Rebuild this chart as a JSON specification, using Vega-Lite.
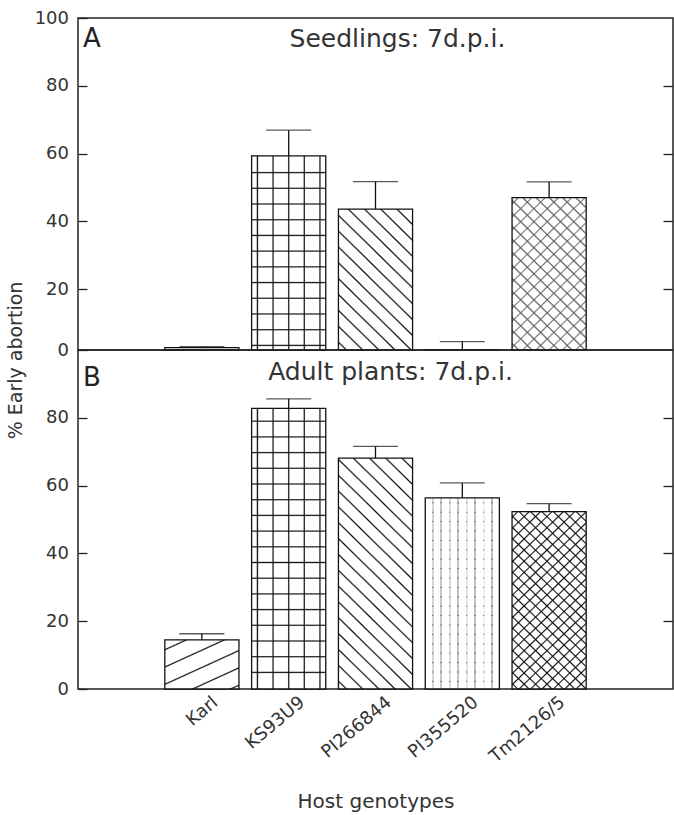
{
"$schema": "https://vega.github.io/schema/vega-lite/v6.json",
"background": "white",
"padding": {"left": 5, "top": 8, "right": 2, "bottom": 0},
"bounds": "flush",
"spacing": 0,
"config": {
  "font": "DejaVu Sans",
  "view": {"stroke": "#222", "strokeWidth": 1.5},
  "axis": {"grid": false, "domain": false, "tickColor": "#222", "tickWidth": 1.3, "labelColor": "#333", "titleColor": "#333", "labelFontWeight": "normal", "titleFontWeight": "normal", "labelFlush": false},
  "title": {"fontWeight": "normal", "color": "#222"}
},
"datasets": {
  "bars": [
    {"panel": "A", "genotype": "Karl", "value": 2.7, "upper": 3.0},
    {"panel": "A", "genotype": "KS93U9", "value": 59.3, "upper": 66.9},
    {"panel": "A", "genotype": "PI266844", "value": 43.6, "upper": 51.7},
    {"panel": "A", "genotype": "PI355520", "value": 1.0, "upper": 4.5},
    {"panel": "A", "genotype": "Tm2126/5", "value": 47.0, "upper": 51.6},
    {"panel": "B", "genotype": "Karl", "value": 14.5, "upper": 16.3},
    {"panel": "B", "genotype": "KS93U9", "value": 82.8, "upper": 85.6},
    {"panel": "B", "genotype": "PI266844", "value": 68.1, "upper": 71.6},
    {"panel": "B", "genotype": "PI355520", "value": 56.4, "upper": 60.8},
    {"panel": "B", "genotype": "Tm2126/5", "value": 52.3, "upper": 54.7}
  ]
},
"vconcat": [
{
  "width": 595, "height": 332,
  "title": {"text": "A", "anchor": "start", "frame": "group", "baseline": "top", "offset": -42.5, "dx": 5, "fontSize": 26},
  "data": {"name": "bars"},
  "transform": [{"filter": "datum.panel === 'A'"}],
  "resolve": {"axis": {"x": "independent", "y": "independent"}},
  "layer": [
    {"transform": [{"filter": "datum.genotype === 'KS93U9'"}],
     "mark": {"type": "bar", "strokeWidth": 0, "fill": {"gradient": "linear", "x1": 0, "y1": 1, "x2": 0, "y2": 0, "stops": [
       {"offset":0.0175,"color":"#fff"},{"offset":0.0237,"color":"#111"},{"offset":0.0299,"color":"#fff"},
       {"offset":0.0984,"color":"#fff"},{"offset":0.1046,"color":"#111"},{"offset":0.1108,"color":"#fff"},
       {"offset":0.1794,"color":"#fff"},{"offset":0.1856,"color":"#111"},{"offset":0.1918,"color":"#fff"},
       {"offset":0.2603,"color":"#fff"},{"offset":0.2665,"color":"#111"},{"offset":0.2727,"color":"#fff"},
       {"offset":0.3412,"color":"#fff"},{"offset":0.3474,"color":"#111"},{"offset":0.3536,"color":"#fff"},
       {"offset":0.4222,"color":"#fff"},{"offset":0.4284,"color":"#111"},{"offset":0.4346,"color":"#fff"},
       {"offset":0.5031,"color":"#fff"},{"offset":0.5093,"color":"#111"},{"offset":0.5155,"color":"#fff"},
       {"offset":0.5840,"color":"#fff"},{"offset":0.5902,"color":"#111"},{"offset":0.5964,"color":"#fff"},
       {"offset":0.6649,"color":"#fff"},{"offset":0.6711,"color":"#111"},{"offset":0.6773,"color":"#fff"},
       {"offset":0.7459,"color":"#fff"},{"offset":0.7521,"color":"#111"},{"offset":0.7583,"color":"#fff"},
       {"offset":0.8268,"color":"#fff"},{"offset":0.8330,"color":"#111"},{"offset":0.8392,"color":"#fff"},
       {"offset":0.9077,"color":"#fff"},{"offset":0.9139,"color":"#111"},{"offset":0.9201,"color":"#fff"}]}},
     "encoding": {
       "x": {"field": "genotype", "type": "nominal", "scale": {"domain": ["Karl","KS93U9","PI266844","PI355520","Tm2126/5"], "paddingInner": 0.146, "paddingOuter": 1.053}, "axis": null},
       "y": {"field": "value", "type": "quantitative", "scale": {"domain": [2, 100], "nice": false, "zero": false, "clamp": true}, "axis": null}}},
    {"transform": [{"filter": "datum.genotype === 'KS93U9'"}],
     "mark": {"type": "bar", "strokeWidth": 0, "fill": {"gradient": "linear", "x1": 0, "y1": 0, "x2": 1, "y2": 0, "stops": [
       {"offset":0.062,"color":"transparent"},{"offset":0.0785,"color":"#111"},{"offset":0.095,"color":"transparent"},
       {"offset":0.2728,"color":"transparent"},{"offset":0.2893,"color":"#111"},{"offset":0.3058,"color":"transparent"},
       {"offset":0.4835,"color":"transparent"},{"offset":0.5,"color":"#111"},{"offset":0.5165,"color":"transparent"},
       {"offset":0.6942,"color":"transparent"},{"offset":0.7107,"color":"#111"},{"offset":0.7272,"color":"transparent"},
       {"offset":0.905,"color":"transparent"},{"offset":0.9215,"color":"#111"},{"offset":0.938,"color":"transparent"}]}},
     "encoding": {
       "x": {"field": "genotype", "type": "nominal", "axis": null},
       "y": {"field": "value", "type": "quantitative", "axis": null}}},
    {"transform": [{"filter": "datum.genotype === 'PI266844'"}],
     "mark": {"type": "bar", "strokeWidth": 0, "fill": {"gradient": "linear", "x1": 0, "y1": 1, "x2": 0.6174, "y2": -0.1973, "stops": [
       {"offset":0.0291,"color":"#fff"},{"offset":0.0371,"color":"#111"},{"offset":0.0451,"color":"#fff"},
       {"offset":0.1033,"color":"#fff"},{"offset":0.1113,"color":"#111"},{"offset":0.1193,"color":"#fff"},
       {"offset":0.1776,"color":"#fff"},{"offset":0.1856,"color":"#111"},{"offset":0.1936,"color":"#fff"},
       {"offset":0.2518,"color":"#fff"},{"offset":0.2598,"color":"#111"},{"offset":0.2678,"color":"#fff"},
       {"offset":0.3260,"color":"#fff"},{"offset":0.3340,"color":"#111"},{"offset":0.3420,"color":"#fff"},
       {"offset":0.4002,"color":"#fff"},{"offset":0.4082,"color":"#111"},{"offset":0.4162,"color":"#fff"},
       {"offset":0.4744,"color":"#fff"},{"offset":0.4824,"color":"#111"},{"offset":0.4904,"color":"#fff"},
       {"offset":0.5487,"color":"#fff"},{"offset":0.5567,"color":"#111"},{"offset":0.5647,"color":"#fff"},
       {"offset":0.6229,"color":"#fff"},{"offset":0.6309,"color":"#111"},{"offset":0.6389,"color":"#fff"},
       {"offset":0.6971,"color":"#fff"},{"offset":0.7051,"color":"#111"},{"offset":0.7131,"color":"#fff"},
       {"offset":0.7713,"color":"#fff"},{"offset":0.7793,"color":"#111"},{"offset":0.7873,"color":"#fff"},
       {"offset":0.8456,"color":"#fff"},{"offset":0.8536,"color":"#111"},{"offset":0.8616,"color":"#fff"},
       {"offset":0.9198,"color":"#fff"},{"offset":0.9278,"color":"#111"},{"offset":0.9358,"color":"#fff"}]}},
     "encoding": {
       "x": {"field": "genotype", "type": "nominal", "axis": null},
       "y": {"field": "value", "type": "quantitative", "axis": null}}},
    {"transform": [{"filter": "datum.genotype === 'Tm2126/5'"}],
     "mark": {"type": "bar", "strokeWidth": 0, "fill": {"gradient": "linear", "x1": 0, "y1": 0, "x2": 0.5735, "y2": 1.2031, "stops": [
       {"offset":0.0220,"color":"#fff"},{"offset":0.0289,"color":"#777"},{"offset":0.0358,"color":"#fff"},
       {"offset":0.0799,"color":"#fff"},{"offset":0.0868,"color":"#777"},{"offset":0.0937,"color":"#fff"},
       {"offset":0.1378,"color":"#fff"},{"offset":0.1447,"color":"#777"},{"offset":0.1516,"color":"#fff"},
       {"offset":0.1956,"color":"#fff"},{"offset":0.2025,"color":"#777"},{"offset":0.2094,"color":"#fff"},
       {"offset":0.2535,"color":"#fff"},{"offset":0.2604,"color":"#777"},{"offset":0.2673,"color":"#fff"},
       {"offset":0.3113,"color":"#fff"},{"offset":0.3182,"color":"#777"},{"offset":0.3251,"color":"#fff"},
       {"offset":0.3692,"color":"#fff"},{"offset":0.3761,"color":"#777"},{"offset":0.3830,"color":"#fff"},
       {"offset":0.4271,"color":"#fff"},{"offset":0.4340,"color":"#777"},{"offset":0.4409,"color":"#fff"},
       {"offset":0.4849,"color":"#fff"},{"offset":0.4918,"color":"#777"},{"offset":0.4987,"color":"#fff"},
       {"offset":0.5428,"color":"#fff"},{"offset":0.5497,"color":"#777"},{"offset":0.5566,"color":"#fff"},
       {"offset":0.6006,"color":"#fff"},{"offset":0.6075,"color":"#777"},{"offset":0.6144,"color":"#fff"},
       {"offset":0.6585,"color":"#fff"},{"offset":0.6654,"color":"#777"},{"offset":0.6723,"color":"#fff"},
       {"offset":0.7164,"color":"#fff"},{"offset":0.7233,"color":"#777"},{"offset":0.7302,"color":"#fff"},
       {"offset":0.7742,"color":"#fff"},{"offset":0.7811,"color":"#777"},{"offset":0.7880,"color":"#fff"},
       {"offset":0.8321,"color":"#fff"},{"offset":0.8390,"color":"#777"},{"offset":0.8459,"color":"#fff"},
       {"offset":0.8900,"color":"#fff"},{"offset":0.8969,"color":"#777"},{"offset":0.9038,"color":"#fff"},
       {"offset":0.9478,"color":"#fff"},{"offset":0.9547,"color":"#777"},{"offset":0.9616,"color":"#fff"}]}},
     "encoding": {
       "x": {"field": "genotype", "type": "nominal", "axis": null},
       "y": {"field": "value", "type": "quantitative", "axis": null}}},
    {"transform": [{"filter": "datum.genotype === 'Tm2126/5'"}],
     "mark": {"type": "bar", "strokeWidth": 0, "fill": {"gradient": "linear", "x1": 0, "y1": 1, "x2": 0.5735, "y2": -0.2031, "stops": [
       {"offset":0.0220,"color":"transparent"},{"offset":0.0289,"color":"#777"},{"offset":0.0358,"color":"transparent"},
       {"offset":0.0799,"color":"transparent"},{"offset":0.0868,"color":"#777"},{"offset":0.0937,"color":"transparent"},
       {"offset":0.1378,"color":"transparent"},{"offset":0.1447,"color":"#777"},{"offset":0.1516,"color":"transparent"},
       {"offset":0.1956,"color":"transparent"},{"offset":0.2025,"color":"#777"},{"offset":0.2094,"color":"transparent"},
       {"offset":0.2535,"color":"transparent"},{"offset":0.2604,"color":"#777"},{"offset":0.2673,"color":"transparent"},
       {"offset":0.3113,"color":"transparent"},{"offset":0.3182,"color":"#777"},{"offset":0.3251,"color":"transparent"},
       {"offset":0.3692,"color":"transparent"},{"offset":0.3761,"color":"#777"},{"offset":0.3830,"color":"transparent"},
       {"offset":0.4271,"color":"transparent"},{"offset":0.4340,"color":"#777"},{"offset":0.4409,"color":"transparent"},
       {"offset":0.4849,"color":"transparent"},{"offset":0.4918,"color":"#777"},{"offset":0.4987,"color":"transparent"},
       {"offset":0.5428,"color":"transparent"},{"offset":0.5497,"color":"#777"},{"offset":0.5566,"color":"transparent"},
       {"offset":0.6006,"color":"transparent"},{"offset":0.6075,"color":"#777"},{"offset":0.6144,"color":"transparent"},
       {"offset":0.6585,"color":"transparent"},{"offset":0.6654,"color":"#777"},{"offset":0.6723,"color":"transparent"},
       {"offset":0.7164,"color":"transparent"},{"offset":0.7233,"color":"#777"},{"offset":0.7302,"color":"transparent"},
       {"offset":0.7742,"color":"transparent"},{"offset":0.7811,"color":"#777"},{"offset":0.7880,"color":"transparent"},
       {"offset":0.8321,"color":"transparent"},{"offset":0.8390,"color":"#777"},{"offset":0.8459,"color":"transparent"},
       {"offset":0.8900,"color":"transparent"},{"offset":0.8969,"color":"#777"},{"offset":0.9038,"color":"transparent"},
       {"offset":0.9478,"color":"transparent"},{"offset":0.9547,"color":"#777"},{"offset":0.9616,"color":"transparent"}]}},
     "encoding": {
       "x": {"field": "genotype", "type": "nominal", "axis": null},
       "y": {"field": "value", "type": "quantitative", "axis": null}}},
    {"mark": {"type": "bar", "fill": "white", "fillOpacity": 0, "stroke": "#111", "strokeWidth": 1.3},
     "encoding": {
       "x": {"field": "genotype", "type": "nominal", "axis": null},
       "y": {"field": "value", "type": "quantitative",
             "axis": {"orient": "left", "values": [2, 20, 40, 60, 80, 100], "labelExpr": "datum.value < 10 ? '0' : datum.label", "tickSize": -9, "labelPadding": 18.5, "labelFontSize": 18,
                      "title": "% Early abortion", "titleX": -63, "titleY": 342, "titleAngle": 270, "titleAlign": "center", "titleBaseline": "middle", "titleFontSize": 19}}}},
    {"mark": {"type": "rule", "color": "#111", "strokeWidth": 1.3},
     "encoding": {
       "x": {"field": "genotype", "type": "nominal", "axis": null},
       "y": {"field": "value", "type": "quantitative", "axis": null},
       "y2": {"field": "upper"}}},
    {"mark": {"type": "tick", "color": "#111", "size": 45, "thickness": 1.3},
     "encoding": {
       "x": {"field": "genotype", "type": "nominal", "axis": null},
       "y": {"field": "upper", "type": "quantitative",
             "axis": {"orient": "right", "values": [20, 40, 60, 80], "labels": false, "tickSize": -10, "title": null}}}},
    {"data": {"values": [{}]},
     "mark": {"type": "text", "text": "Seedlings:  7d.p.i.", "fontSize": 25, "dx": 22, "color": "#333"},
     "encoding": {
       "x": {"datum": "PI266844", "type": "nominal", "axis": null},
       "y": {"datum": 93.9, "type": "quantitative", "axis": null}}}
  ]
},
{
  "width": 595, "height": 339,
  "title": {"text": "B", "anchor": "start", "frame": "group", "baseline": "top", "offset": -40.5, "dx": 5, "fontSize": 26},
  "data": {"name": "bars"},
  "transform": [{"filter": "datum.panel === 'B'"}],
  "resolve": {"axis": {"x": "independent", "y": "independent"}},
  "layer": [
    {"transform": [{"filter": "datum.genotype === 'Karl'"}],
     "mark": {"type": "bar", "strokeWidth": 0, "fill": {"gradient": "linear", "x1": 0, "y1": 0, "x2": 0.7882, "y2": 1.1456, "stops": [
       {"offset":0.1037,"color":"#fff"},{"offset":0.1196,"color":"#111"},{"offset":0.1355,"color":"#fff"},
       {"offset":0.3123,"color":"#fff"},{"offset":0.3282,"color":"#111"},{"offset":0.3441,"color":"#fff"},
       {"offset":0.5208,"color":"#fff"},{"offset":0.5367,"color":"#111"},{"offset":0.5526,"color":"#fff"},
       {"offset":0.7294,"color":"#fff"},{"offset":0.7453,"color":"#111"},{"offset":0.7612,"color":"#fff"},
       {"offset":0.9380,"color":"#fff"},{"offset":0.9539,"color":"#111"},{"offset":0.9698,"color":"#fff"}]}},
     "encoding": {
       "x": {"field": "genotype", "type": "nominal", "scale": {"domain": ["Karl","KS93U9","PI266844","PI355520","Tm2126/5"], "paddingInner": 0.146, "paddingOuter": 1.053}, "axis": null},
       "y": {"field": "value", "type": "quantitative", "scale": {"domain": [0, 100], "nice": false, "clamp": true}, "axis": null}}},
    {"transform": [{"filter": "datum.genotype === 'KS93U9'"}],
     "mark": {"type": "bar", "strokeWidth": 0, "fill": {"gradient": "linear", "x1": 0, "y1": 1, "x2": 0, "y2": 0, "stops": [
       {"offset":0.0548,"color":"#fff"},{"offset":0.0591,"color":"#111"},{"offset":0.0634,"color":"#fff"},
       {"offset":0.1108,"color":"#fff"},{"offset":0.1151,"color":"#111"},{"offset":0.1194,"color":"#fff"},
       {"offset":0.1667,"color":"#fff"},{"offset":0.1710,"color":"#111"},{"offset":0.1753,"color":"#fff"},
       {"offset":0.2226,"color":"#fff"},{"offset":0.2269,"color":"#111"},{"offset":0.2312,"color":"#fff"},
       {"offset":0.2786,"color":"#fff"},{"offset":0.2829,"color":"#111"},{"offset":0.2872,"color":"#fff"},
       {"offset":0.3345,"color":"#fff"},{"offset":0.3388,"color":"#111"},{"offset":0.3431,"color":"#fff"},
       {"offset":0.3904,"color":"#fff"},{"offset":0.3947,"color":"#111"},{"offset":0.3990,"color":"#fff"},
       {"offset":0.4464,"color":"#fff"},{"offset":0.4507,"color":"#111"},{"offset":0.4550,"color":"#fff"},
       {"offset":0.5023,"color":"#fff"},{"offset":0.5066,"color":"#111"},{"offset":0.5109,"color":"#fff"},
       {"offset":0.5582,"color":"#fff"},{"offset":0.5625,"color":"#111"},{"offset":0.5668,"color":"#fff"},
       {"offset":0.6142,"color":"#fff"},{"offset":0.6185,"color":"#111"},{"offset":0.6228,"color":"#fff"},
       {"offset":0.6701,"color":"#fff"},{"offset":0.6744,"color":"#111"},{"offset":0.6787,"color":"#fff"},
       {"offset":0.7260,"color":"#fff"},{"offset":0.7303,"color":"#111"},{"offset":0.7346,"color":"#fff"},
       {"offset":0.7820,"color":"#fff"},{"offset":0.7863,"color":"#111"},{"offset":0.7906,"color":"#fff"},
       {"offset":0.8379,"color":"#fff"},{"offset":0.8422,"color":"#111"},{"offset":0.8465,"color":"#fff"},
       {"offset":0.8938,"color":"#fff"},{"offset":0.8981,"color":"#111"},{"offset":0.9024,"color":"#fff"},
       {"offset":0.9497,"color":"#fff"},{"offset":0.9540,"color":"#111"},{"offset":0.9583,"color":"#fff"}]}},
     "encoding": {
       "x": {"field": "genotype", "type": "nominal", "axis": null},
       "y": {"field": "value", "type": "quantitative", "axis": null}}},
    {"transform": [{"filter": "datum.genotype === 'KS93U9'"}],
     "mark": {"type": "bar", "strokeWidth": 0, "fill": {"gradient": "linear", "x1": 0, "y1": 0, "x2": 1, "y2": 0, "stops": [
       {"offset":0.062,"color":"transparent"},{"offset":0.0785,"color":"#111"},{"offset":0.095,"color":"transparent"},
       {"offset":0.2728,"color":"transparent"},{"offset":0.2893,"color":"#111"},{"offset":0.3058,"color":"transparent"},
       {"offset":0.4835,"color":"transparent"},{"offset":0.5,"color":"#111"},{"offset":0.5165,"color":"transparent"},
       {"offset":0.6942,"color":"transparent"},{"offset":0.7107,"color":"#111"},{"offset":0.7272,"color":"transparent"},
       {"offset":0.905,"color":"transparent"},{"offset":0.9215,"color":"#111"},{"offset":0.938,"color":"transparent"}]}},
     "encoding": {
       "x": {"field": "genotype", "type": "nominal", "axis": null},
       "y": {"field": "value", "type": "quantitative", "axis": null}}},
    {"transform": [{"filter": "datum.genotype === 'PI266844'"}],
     "mark": {"type": "bar", "strokeWidth": 0, "fill": {"gradient": "linear", "x1": 0, "y1": 1, "x2": 0.3761, "y2": -0.1961, "stops": [
       {"offset":0.0205,"color":"#fff"},{"offset":0.0261,"color":"#111"},{"offset":0.0317,"color":"#fff"},
       {"offset":0.0727,"color":"#fff"},{"offset":0.0783,"color":"#111"},{"offset":0.0839,"color":"#fff"},
       {"offset":0.1249,"color":"#fff"},{"offset":0.1305,"color":"#111"},{"offset":0.1361,"color":"#fff"},
       {"offset":0.1771,"color":"#fff"},{"offset":0.1827,"color":"#111"},{"offset":0.1883,"color":"#fff"},
       {"offset":0.2293,"color":"#fff"},{"offset":0.2349,"color":"#111"},{"offset":0.2405,"color":"#fff"},
       {"offset":0.2814,"color":"#fff"},{"offset":0.2870,"color":"#111"},{"offset":0.2926,"color":"#fff"},
       {"offset":0.3336,"color":"#fff"},{"offset":0.3392,"color":"#111"},{"offset":0.3448,"color":"#fff"},
       {"offset":0.3858,"color":"#fff"},{"offset":0.3914,"color":"#111"},{"offset":0.3970,"color":"#fff"},
       {"offset":0.4380,"color":"#fff"},{"offset":0.4436,"color":"#111"},{"offset":0.4492,"color":"#fff"},
       {"offset":0.4902,"color":"#fff"},{"offset":0.4958,"color":"#111"},{"offset":0.5014,"color":"#fff"},
       {"offset":0.5424,"color":"#fff"},{"offset":0.5480,"color":"#111"},{"offset":0.5536,"color":"#fff"},
       {"offset":0.5946,"color":"#fff"},{"offset":0.6002,"color":"#111"},{"offset":0.6058,"color":"#fff"},
       {"offset":0.6468,"color":"#fff"},{"offset":0.6524,"color":"#111"},{"offset":0.6580,"color":"#fff"},
       {"offset":0.6990,"color":"#fff"},{"offset":0.7046,"color":"#111"},{"offset":0.7102,"color":"#fff"},
       {"offset":0.7512,"color":"#fff"},{"offset":0.7568,"color":"#111"},{"offset":0.7624,"color":"#fff"},
       {"offset":0.8033,"color":"#fff"},{"offset":0.8089,"color":"#111"},{"offset":0.8145,"color":"#fff"},
       {"offset":0.8555,"color":"#fff"},{"offset":0.8611,"color":"#111"},{"offset":0.8667,"color":"#fff"},
       {"offset":0.9077,"color":"#fff"},{"offset":0.9133,"color":"#111"},{"offset":0.9189,"color":"#fff"},
       {"offset":0.9599,"color":"#fff"},{"offset":0.9655,"color":"#111"},{"offset":0.9711,"color":"#fff"}]}},
     "encoding": {
       "x": {"field": "genotype", "type": "nominal", "axis": null},
       "y": {"field": "value", "type": "quantitative", "axis": null}}},
    {"transform": [{"filter": "datum.genotype === 'PI355520'"}],
     "mark": {"type": "bar", "strokeWidth": 0, "fill": {"gradient": "linear", "x1": 0, "y1": 1, "x2": 0, "y2": 0, "stops": [
       {"offset":0.0345,"color":"#fff"},{"offset":0.0397,"color":"#666"},{"offset":0.0449,"color":"#fff"},
       {"offset":0.0837,"color":"#fff"},{"offset":0.0889,"color":"#666"},{"offset":0.0941,"color":"#fff"},
       {"offset":0.1329,"color":"#fff"},{"offset":0.1381,"color":"#666"},{"offset":0.1433,"color":"#fff"},
       {"offset":0.1820,"color":"#fff"},{"offset":0.1872,"color":"#666"},{"offset":0.1924,"color":"#fff"},
       {"offset":0.2312,"color":"#fff"},{"offset":0.2364,"color":"#666"},{"offset":0.2416,"color":"#fff"},
       {"offset":0.2804,"color":"#fff"},{"offset":0.2856,"color":"#666"},{"offset":0.2908,"color":"#fff"},
       {"offset":0.3295,"color":"#fff"},{"offset":0.3347,"color":"#666"},{"offset":0.3399,"color":"#fff"},
       {"offset":0.3787,"color":"#fff"},{"offset":0.3839,"color":"#666"},{"offset":0.3891,"color":"#fff"},
       {"offset":0.4279,"color":"#fff"},{"offset":0.4331,"color":"#666"},{"offset":0.4383,"color":"#fff"},
       {"offset":0.4770,"color":"#fff"},{"offset":0.4822,"color":"#666"},{"offset":0.4874,"color":"#fff"},
       {"offset":0.5262,"color":"#fff"},{"offset":0.5314,"color":"#666"},{"offset":0.5366,"color":"#fff"},
       {"offset":0.5753,"color":"#fff"},{"offset":0.5805,"color":"#666"},{"offset":0.5857,"color":"#fff"},
       {"offset":0.6245,"color":"#fff"},{"offset":0.6297,"color":"#666"},{"offset":0.6349,"color":"#fff"},
       {"offset":0.6737,"color":"#fff"},{"offset":0.6789,"color":"#666"},{"offset":0.6841,"color":"#fff"},
       {"offset":0.7228,"color":"#fff"},{"offset":0.7280,"color":"#666"},{"offset":0.7332,"color":"#fff"},
       {"offset":0.7720,"color":"#fff"},{"offset":0.7772,"color":"#666"},{"offset":0.7824,"color":"#fff"},
       {"offset":0.8212,"color":"#fff"},{"offset":0.8264,"color":"#666"},{"offset":0.8316,"color":"#fff"},
       {"offset":0.8703,"color":"#fff"},{"offset":0.8755,"color":"#666"},{"offset":0.8807,"color":"#fff"},
       {"offset":0.9195,"color":"#fff"},{"offset":0.9247,"color":"#666"},{"offset":0.9299,"color":"#fff"},
       {"offset":0.9686,"color":"#fff"},{"offset":0.9738,"color":"#666"},{"offset":0.9790,"color":"#fff"}]}},
     "encoding": {
       "x": {"field": "genotype", "type": "nominal", "axis": null},
       "y": {"field": "value", "type": "quantitative", "axis": null}}},
    {"transform": [{"filter": "datum.genotype === 'PI355520'"}],
     "mark": {"type": "bar", "strokeWidth": 0, "fill": {"gradient": "linear", "x1": 0, "y1": 0, "x2": 1, "y2": 0, "stops": [
       {"offset":0.0868,"color":"#fff"},{"offset":0.1006,"color":"transparent"},{"offset":0.1144,"color":"#fff"},
       {"offset":0.2011,"color":"#fff"},{"offset":0.2149,"color":"transparent"},{"offset":0.2287,"color":"#fff"},
       {"offset":0.3154,"color":"#fff"},{"offset":0.3292,"color":"transparent"},{"offset":0.3430,"color":"#fff"},
       {"offset":0.4297,"color":"#fff"},{"offset":0.4435,"color":"transparent"},{"offset":0.4573,"color":"#fff"},
       {"offset":0.5441,"color":"#fff"},{"offset":0.5579,"color":"transparent"},{"offset":0.5717,"color":"#fff"},
       {"offset":0.6584,"color":"#fff"},{"offset":0.6722,"color":"transparent"},{"offset":0.6860,"color":"#fff"},
       {"offset":0.7727,"color":"#fff"},{"offset":0.7865,"color":"transparent"},{"offset":0.8003,"color":"#fff"},
       {"offset":0.8870,"color":"#fff"},{"offset":0.9008,"color":"transparent"},{"offset":0.9146,"color":"#fff"}]}},
     "encoding": {
       "x": {"field": "genotype", "type": "nominal", "axis": null},
       "y": {"field": "value", "type": "quantitative", "axis": null}}},
    {"transform": [{"filter": "datum.genotype === 'Tm2126/5'"}],
     "mark": {"type": "bar", "strokeWidth": 0, "fill": {"gradient": "linear", "x1": 0, "y1": 0, "x2": 0.4943, "y2": 1.2070, "stops": [
       {"offset":0.0159,"color":"#fff"},{"offset":0.0221,"color":"#111"},{"offset":0.0283,"color":"#fff"},
       {"offset":0.0606,"color":"#fff"},{"offset":0.0668,"color":"#111"},{"offset":0.0730,"color":"#fff"},
       {"offset":0.1053,"color":"#fff"},{"offset":0.1115,"color":"#111"},{"offset":0.1177,"color":"#fff"},
       {"offset":0.1500,"color":"#fff"},{"offset":0.1562,"color":"#111"},{"offset":0.1624,"color":"#fff"},
       {"offset":0.1947,"color":"#fff"},{"offset":0.2009,"color":"#111"},{"offset":0.2071,"color":"#fff"},
       {"offset":0.2394,"color":"#fff"},{"offset":0.2456,"color":"#111"},{"offset":0.2518,"color":"#fff"},
       {"offset":0.2841,"color":"#fff"},{"offset":0.2903,"color":"#111"},{"offset":0.2965,"color":"#fff"},
       {"offset":0.3288,"color":"#fff"},{"offset":0.3350,"color":"#111"},{"offset":0.3412,"color":"#fff"},
       {"offset":0.3735,"color":"#fff"},{"offset":0.3797,"color":"#111"},{"offset":0.3859,"color":"#fff"},
       {"offset":0.4182,"color":"#fff"},{"offset":0.4244,"color":"#111"},{"offset":0.4306,"color":"#fff"},
       {"offset":0.4630,"color":"#fff"},{"offset":0.4692,"color":"#111"},{"offset":0.4754,"color":"#fff"},
       {"offset":0.5077,"color":"#fff"},{"offset":0.5139,"color":"#111"},{"offset":0.5201,"color":"#fff"},
       {"offset":0.5524,"color":"#fff"},{"offset":0.5586,"color":"#111"},{"offset":0.5648,"color":"#fff"},
       {"offset":0.5971,"color":"#fff"},{"offset":0.6033,"color":"#111"},{"offset":0.6095,"color":"#fff"},
       {"offset":0.6418,"color":"#fff"},{"offset":0.6480,"color":"#111"},{"offset":0.6542,"color":"#fff"},
       {"offset":0.6865,"color":"#fff"},{"offset":0.6927,"color":"#111"},{"offset":0.6989,"color":"#fff"},
       {"offset":0.7312,"color":"#fff"},{"offset":0.7374,"color":"#111"},{"offset":0.7436,"color":"#fff"},
       {"offset":0.7759,"color":"#fff"},{"offset":0.7821,"color":"#111"},{"offset":0.7883,"color":"#fff"},
       {"offset":0.8206,"color":"#fff"},{"offset":0.8268,"color":"#111"},{"offset":0.8330,"color":"#fff"},
       {"offset":0.8653,"color":"#fff"},{"offset":0.8715,"color":"#111"},{"offset":0.8777,"color":"#fff"},
       {"offset":0.9100,"color":"#fff"},{"offset":0.9162,"color":"#111"},{"offset":0.9224,"color":"#fff"},
       {"offset":0.9548,"color":"#fff"},{"offset":0.9610,"color":"#111"},{"offset":0.9672,"color":"#fff"}]}},
     "encoding": {
       "x": {"field": "genotype", "type": "nominal", "axis": null},
       "y": {"field": "value", "type": "quantitative", "axis": null}}},
    {"transform": [{"filter": "datum.genotype === 'Tm2126/5'"}],
     "mark": {"type": "bar", "strokeWidth": 0, "fill": {"gradient": "linear", "x1": 0, "y1": 1, "x2": 0.4943, "y2": -0.2070, "stops": [
       {"offset":0.0159,"color":"transparent"},{"offset":0.0221,"color":"#111"},{"offset":0.0283,"color":"transparent"},
       {"offset":0.0606,"color":"transparent"},{"offset":0.0668,"color":"#111"},{"offset":0.0730,"color":"transparent"},
       {"offset":0.1053,"color":"transparent"},{"offset":0.1115,"color":"#111"},{"offset":0.1177,"color":"transparent"},
       {"offset":0.1500,"color":"transparent"},{"offset":0.1562,"color":"#111"},{"offset":0.1624,"color":"transparent"},
       {"offset":0.1947,"color":"transparent"},{"offset":0.2009,"color":"#111"},{"offset":0.2071,"color":"transparent"},
       {"offset":0.2394,"color":"transparent"},{"offset":0.2456,"color":"#111"},{"offset":0.2518,"color":"transparent"},
       {"offset":0.2841,"color":"transparent"},{"offset":0.2903,"color":"#111"},{"offset":0.2965,"color":"transparent"},
       {"offset":0.3288,"color":"transparent"},{"offset":0.3350,"color":"#111"},{"offset":0.3412,"color":"transparent"},
       {"offset":0.3735,"color":"transparent"},{"offset":0.3797,"color":"#111"},{"offset":0.3859,"color":"transparent"},
       {"offset":0.4182,"color":"transparent"},{"offset":0.4244,"color":"#111"},{"offset":0.4306,"color":"transparent"},
       {"offset":0.4630,"color":"transparent"},{"offset":0.4692,"color":"#111"},{"offset":0.4754,"color":"transparent"},
       {"offset":0.5077,"color":"transparent"},{"offset":0.5139,"color":"#111"},{"offset":0.5201,"color":"transparent"},
       {"offset":0.5524,"color":"transparent"},{"offset":0.5586,"color":"#111"},{"offset":0.5648,"color":"transparent"},
       {"offset":0.5971,"color":"transparent"},{"offset":0.6033,"color":"#111"},{"offset":0.6095,"color":"transparent"},
       {"offset":0.6418,"color":"transparent"},{"offset":0.6480,"color":"#111"},{"offset":0.6542,"color":"transparent"},
       {"offset":0.6865,"color":"transparent"},{"offset":0.6927,"color":"#111"},{"offset":0.6989,"color":"transparent"},
       {"offset":0.7312,"color":"transparent"},{"offset":0.7374,"color":"#111"},{"offset":0.7436,"color":"transparent"},
       {"offset":0.7759,"color":"transparent"},{"offset":0.7821,"color":"#111"},{"offset":0.7883,"color":"transparent"},
       {"offset":0.8206,"color":"transparent"},{"offset":0.8268,"color":"#111"},{"offset":0.8330,"color":"transparent"},
       {"offset":0.8653,"color":"transparent"},{"offset":0.8715,"color":"#111"},{"offset":0.8777,"color":"transparent"},
       {"offset":0.9100,"color":"transparent"},{"offset":0.9162,"color":"#111"},{"offset":0.9224,"color":"transparent"},
       {"offset":0.9548,"color":"transparent"},{"offset":0.9610,"color":"#111"},{"offset":0.9672,"color":"transparent"}]}},
     "encoding": {
       "x": {"field": "genotype", "type": "nominal", "axis": null},
       "y": {"field": "value", "type": "quantitative", "axis": null}}},
    {"mark": {"type": "bar", "fill": "white", "fillOpacity": 0, "stroke": "#111", "strokeWidth": 1.3},
     "encoding": {
       "x": {"field": "genotype", "type": "nominal",
             "axis": {"orient": "bottom", "labelAngle": -40, "labelAlign": "right", "labelBaseline": "top", "labelPadding": 4, "labelOffset": 8, "labelFontSize": 18, "ticks": false,
                      "title": "Host genotypes", "titleFontSize": 20, "titlePadding": 26}},
       "y": {"field": "value", "type": "quantitative",
             "axis": {"orient": "left", "values": [0, 20, 40, 60, 80], "tickSize": -9, "labelPadding": 18.5, "labelFontSize": 18, "title": null}}}},
    {"mark": {"type": "rule", "color": "#111", "strokeWidth": 1.3},
     "encoding": {
       "x": {"field": "genotype", "type": "nominal", "axis": null},
       "y": {"field": "value", "type": "quantitative", "axis": null},
       "y2": {"field": "upper"}}},
    {"mark": {"type": "tick", "color": "#111", "size": 45, "thickness": 1.3},
     "encoding": {
       "x": {"field": "genotype", "type": "nominal", "axis": null},
       "y": {"field": "upper", "type": "quantitative",
             "axis": {"orient": "right", "values": [20, 40, 60, 80], "labels": false, "tickSize": -10, "title": null}}}},
    {"data": {"values": [{}]},
     "mark": {"type": "text", "text": "Adult plants:  7d.p.i.", "fontSize": 25, "dx": 15, "color": "#333"},
     "encoding": {
       "x": {"datum": "PI266844", "type": "nominal", "axis": null},
       "y": {"datum": 93.4, "type": "quantitative", "axis": null}}}
  ]
}
]
}
